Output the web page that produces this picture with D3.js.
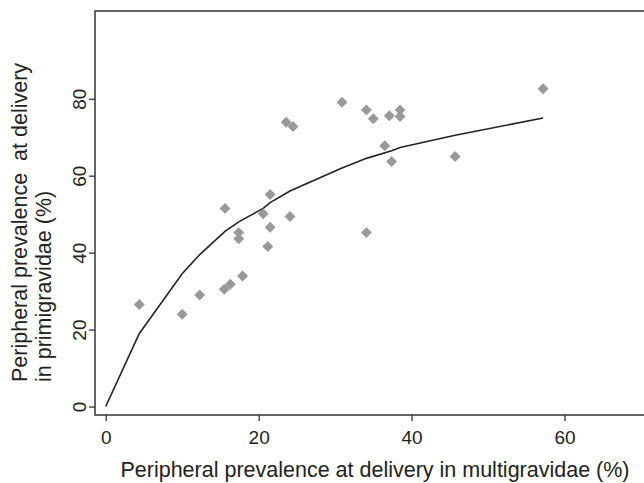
<!DOCTYPE html>
<html>
<head>
<meta charset="utf-8">
<script src="https://cdn.jsdelivr.net/npm/d3@7"></script>
<style>
  body { margin: 0; background: #fff; }
  text { font-family: "Liberation Sans", Arial, sans-serif; fill: #222; }
</style>
</head>
<body>
<div id="wrapper"></div>
<script>
// prevalence in multigravidae (x) and primigravidae (y), one entry per study
const multigravidae = [4.4, 10.0, 12.3, 15.6, 15.5, 16.3, 17.4, 17.4, 17.9, 20.6, 21.5, 21.5, 21.2, 24.1,
  34.1, 23.6, 24.5, 30.9, 34.1, 35.0, 37.1, 38.5, 38.5, 36.5, 37.4, 45.7, 57.2]
const primigravidae = [26.5, 24.0, 29.0, 51.5, 30.5, 31.8, 45.2, 43.6, 33.9, 50.1, 55.1, 46.6, 41.6, 49.4,
  45.2, 73.9, 72.8, 79.1, 77.1, 74.8, 75.6, 77.1, 75.4, 67.8, 63.7, 65.0, 82.6]

// fitted curve
const fitX = [0, 4.4, 10.0, 12.3, 15.6, 17.4, 20.6, 21.5, 24.1, 30.9, 34.1, 37.4, 38.5, 45.7, 57.2]
const fitY = [0, 19, 34.5, 39.5, 45.5, 48, 51.5, 53, 56, 62, 64.5, 66.5, 67.3, 70.5, 75]

const xTicks = [0, 20, 40, 60]
const yTicks = [0, 20, 40, 60, 80]

const width = 644
const height = 483
const dimensions = {
  left: 95,
  right: 644,
  top: 11,
  bottom: 415,
}

const svg = d3.select("#wrapper")
  .append("svg")
    .attr("width", width)
    .attr("height", height)

const xScale = d3.scaleLinear()
    .domain([-1.4, 70.4])
    .range([dimensions.left, dimensions.right])
const yScale = d3.scaleLinear()
    .domain([-2.2, 102.8])
    .range([dimensions.bottom, dimensions.top])

// frame: top, left and bottom
svg.append("path")
    .attr("d", `M${dimensions.right},${dimensions.top}H${dimensions.left}V${dimensions.bottom}H${dimensions.right}`)
    .attr("fill", "none")
    .attr("stroke", "#333")
    .attr("stroke-width", 1.5)

// x axis
const xAxis = svg.append("g")
    .attr("transform", `translate(0,${dimensions.bottom})`)
    .call(d3.axisBottom(xScale).tickValues(xTicks).tickSize(6).tickPadding(10))
xAxis.select(".domain").remove()
xAxis.selectAll("line").attr("stroke", "#333").attr("stroke-width", 1.3)
xAxis.selectAll("text")
    .attr("fill", "#222")
    .style("font-size", "19px")
    .style("font-family", "'Liberation Sans', Arial, sans-serif")

// y axis, labels turned
const yAxis = svg.append("g")
    .attr("transform", `translate(${dimensions.left},0)`)
    .call(d3.axisLeft(yScale).tickValues(yTicks).tickSize(6))
yAxis.select(".domain").remove()
yAxis.selectAll("line").attr("stroke", "#333").attr("stroke-width", 1.3)
yAxis.selectAll("text")
    .attr("x", null).attr("dy", null)
    .attr("transform", "translate(-9,0) rotate(-90)")
    .attr("text-anchor", "middle")
    .attr("fill", "#222")
    .style("font-size", "19px")
    .style("font-family", "'Liberation Sans', Arial, sans-serif")

// curve
const line = d3.line()
    .x((d, i) => xScale(fitX[i]))
    .y(d => yScale(d))
svg.append("path")
    .datum(fitY)
    .attr("d", line)
    .attr("fill", "none")
    .attr("stroke", "#222")
    .attr("stroke-width", 1.6)

// diamonds
const diamond = d3.symbol().type(d3.symbolSquare).size(60)
svg.append("g")
  .selectAll("path")
  .data(multigravidae)
  .join("path")
    .attr("d", diamond)
    .attr("transform", (d, i) => `translate(${xScale(d)},${yScale(primigravidae[i])}) rotate(45)`)
    .attr("fill", "#999")

// axis titles
svg.append("text")
    .attr("x", 375)
    .attr("y", 477)
    .attr("text-anchor", "middle")
    .style("font-size", "21.5px")
    .text("Peripheral prevalence at delivery in multigravidae (%)")

const yTitle = svg.append("text")
    .attr("transform", "translate(27,382) rotate(-90)")
    .style("font-size", "21.5px")
    .attr("xml:space", "preserve")
yTitle.append("tspan")
    .attr("x", 0).attr("y", 0)
    .text("Peripheral prevalence\u00a0 at delivery")
yTitle.append("tspan")
    .attr("x", 0).attr("y", 24)
    .text("in primigravidae (%)")
</script>
</body>
</html>
